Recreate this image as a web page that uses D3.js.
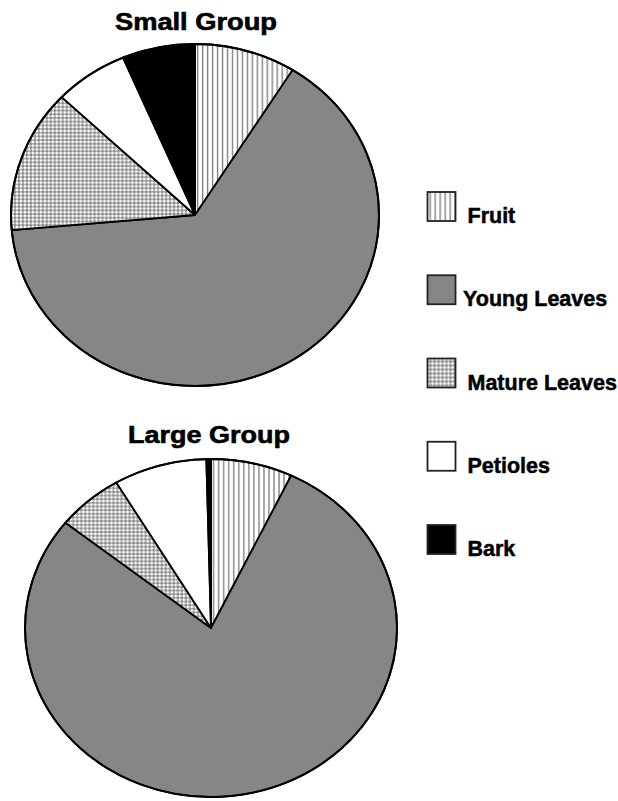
<!DOCTYPE html>
<html><head><meta charset="utf-8">
<script src="https://cdn.jsdelivr.net/npm/d3@7"></script>
<style>body{margin:0;background:#fff}svg{display:block}</style>
</head><body>
<script>
const categories = ["Fruit", "Young Leaves", "Mature Leaves", "Petioles", "Bark"];
const smallGroup = [8.9, 64.7, 13.5, 6.5, 6.4];
const largeGroup = [7.1, 78.6, 5.8, 8.1, 0.4];
const titles = ["Small Group", "Large Group"];

const W = 618, H = 801;
const svg = d3.select("body").append("svg").attr("width", W).attr("height", H);
const defs = svg.append("defs");

// stripes
const ps = defs.append("pattern").attr("id", "stripes").attr("patternUnits", "userSpaceOnUse")
  .attr("width", 5).attr("height", 10);
ps.append("rect").attr("width", 5).attr("height", 10).attr("fill", "#fff");
ps.append("rect").attr("x", 2).attr("width", 1.3).attr("height", 10).attr("fill", "#7a7a7a");
// checks
const pc = defs.append("pattern").attr("id", "checks").attr("patternUnits", "userSpaceOnUse")
  .attr("width", 4).attr("height", 4);
pc.append("rect").attr("width", 4).attr("height", 4).attr("fill", "#b8b8b8");
pc.append("rect").attr("width", 2).attr("height", 2).attr("fill", "#ffffff");
pc.append("rect").attr("x", 2).attr("y", 2).attr("width", 2).attr("height", 2).attr("fill", "#888888");

const fill = d3.scaleOrdinal().domain(categories)
  .range(["url(#stripes)", "#868686", "url(#checks)", "#ffffff", "#000000"]);

const pie = d3.pie().sort(null).value(d => d.v);
const R = 185;
const arc = d3.arc().innerRadius(0).outerRadius(R);

const pies = [
  {title: titles[0], vals: smallGroup, cx: 195, cy: 215, rx: 184, ry: 171, tx: 196, ty: 29.5},
  {title: titles[1], vals: largeGroup, cx: 211, cy: 628, rx: 186, ry: 169, tx: 209, ty: 443}
];

pies.forEach(p => {
  const data = categories.map((c, i) => ({c, v: p.vals[i]}));
  const g = svg.append("g")
    .attr("transform", `translate(${p.cx},${p.cy}) scale(${p.rx / R},${p.ry / R})`);
  g.selectAll("path").data(pie(data)).join("path")
    .attr("d", arc)
    .attr("fill", d => fill(d.data.c))
    .attr("stroke", "#000")
    .attr("stroke-width", 1.8)
    .attr("stroke-linejoin", "round")
    .attr("vector-effect", "non-scaling-stroke");
  g.append("circle").attr("r", R).attr("fill", "none").attr("stroke", "#000")
    .attr("stroke-width", 2).attr("vector-effect", "non-scaling-stroke");
  svg.append("text").attr("x", p.tx).attr("y", p.ty)
    .attr("text-anchor", "middle")
    .attr("font-family", "Liberation Sans, Arial, sans-serif")
    .attr("font-weight", "bold").attr("font-size", 23)
    .attr("stroke", "#000").attr("stroke-width", 0.6)
    .attr("textLength", 162).attr("lengthAdjust", "spacingAndGlyphs")
    .text(p.title);
});

// legend
const ly = d3.scalePoint().domain(categories).range([192, 525]);
const leg = svg.append("g");
const items = leg.selectAll("g").data(categories).join("g")
  .attr("transform", d => `translate(427.5,${ly(d)})`);
items.append("rect").attr("width", 28).attr("height", 29)
  .attr("fill", d => fill(d)).attr("stroke", "#222").attr("stroke-width", 1.8);
items.append("text")
  .attr("x", d => d === "Young Leaves" ? 35.5 : 40)
  .attr("y", 31)
  .attr("font-family", "Liberation Sans, Arial, sans-serif")
  .attr("font-weight", "bold").attr("font-size", 21.5)
  .attr("stroke", "#000").attr("stroke-width", 0.5)
  .text(d => d);
</script>
</body></html>
